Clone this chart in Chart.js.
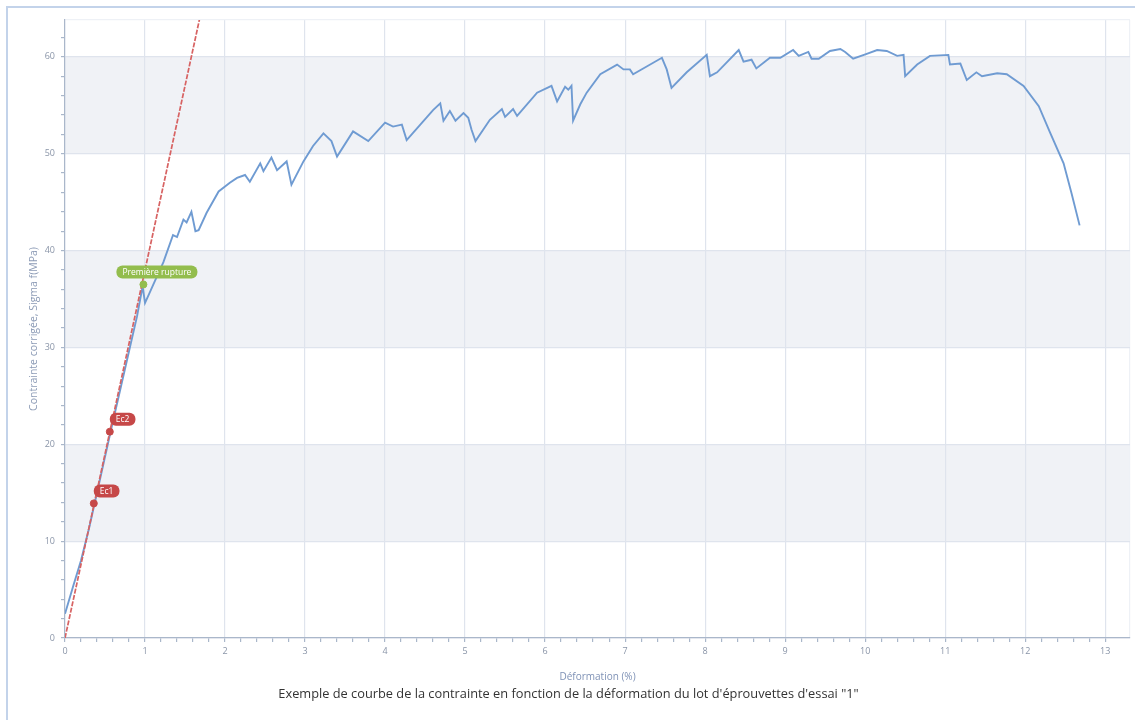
<!DOCTYPE html>
<html>
<head>
<meta charset="utf-8">
<script src="https://cdn.jsdelivr.net/npm/chart.js@4.4.1/dist/chart.umd.min.js"></script>
<style>
    body { margin: 0; background: #fff; }
    .cadre { position: relative; width: 1135px; height: 720px; }
    .bord { position: absolute; left: 6px; top: 6px; right: 0; bottom: 0; border-left: 2px solid #c3d3ea; border-top: 2px solid #c3d3ea; pointer-events: none; }
</style>
</head>
<body>
<div class="cadre">
    <canvas id="myChart"></canvas>
    <div class="bord"></div>
</div>
<script>
// courbe contrainte / deformation
const deformation = [0, 0.1, 0.2, 0.3, 0.4, 0.5, 0.6, 0.7, 0.8, 0.9, 0.97, 1.0, 1.05, 1.12, 1.23, 1.35, 1.40, 1.48, 1.52, 1.58, 1.63, 1.67, 1.77, 1.92, 2.06, 2.15, 2.25, 2.31, 2.44, 2.48, 2.58, 2.65, 2.77, 2.83, 2.98, 3.10, 3.23, 3.33, 3.40, 3.60, 3.79, 4.00, 4.10, 4.21, 4.27, 4.60, 4.69, 4.73, 4.81, 4.88, 4.98, 5.04, 5.08, 5.13, 5.31, 5.46, 5.50, 5.60, 5.65, 5.90, 6.08, 6.15, 6.25, 6.29, 6.33, 6.35, 6.44, 6.52, 6.69, 6.90, 6.98, 7.06, 7.10, 7.27, 7.46, 7.52, 7.58, 7.77, 8.02, 8.06, 8.15, 8.42, 8.48, 8.58, 8.64, 8.81, 8.94, 9.10, 9.17, 9.29, 9.33, 9.42, 9.56, 9.69, 9.75, 9.85, 10.02, 10.15, 10.27, 10.40, 10.48, 10.50, 10.65, 10.81, 11.04, 11.06, 11.19, 11.27, 11.39, 11.46, 11.65, 11.77, 11.98, 12.17, 12.31, 12.48, 12.58, 12.68];
const contrainte = [2.5, 5.3, 8.0, 11.3, 15.0, 18.7, 22.4, 26.0, 29.6, 33.2, 36.3, 34.6, 35.5, 36.8, 38.8, 41.6, 41.4, 43.2, 42.9, 44.0, 42.0, 42.1, 43.9, 46.1, 47.0, 47.5, 47.8, 47.1, 49.0, 48.2, 49.6, 48.3, 49.2, 46.8, 49.2, 50.8, 52.1, 51.3, 49.7, 52.3, 51.3, 53.2, 52.8, 53.0, 51.4, 54.5, 55.2, 53.4, 54.4, 53.4, 54.2, 53.7, 52.5, 51.3, 53.5, 54.6, 53.8, 54.6, 53.9, 56.3, 57.0, 55.4, 56.9, 56.6, 57.0, 53.4, 55.1, 56.3, 58.2, 59.2, 58.7, 58.7, 58.2, 59.0, 59.9, 58.7, 56.8, 58.4, 60.2, 58.0, 58.4, 60.7, 59.5, 59.7, 58.8, 59.9, 59.9, 60.7, 60.1, 60.5, 59.8, 59.8, 60.6, 60.8, 60.5, 59.8, 60.3, 60.7, 60.6, 60.1, 60.2, 58.0, 59.2, 60.1, 60.2, 59.2, 59.3, 57.6, 58.4, 58.0, 58.3, 58.2, 57.0, 54.9, 52.2, 49.0, 45.9, 42.6];

// droite du module (pente)
const droiteX = [0, 1.75];
const droiteY = [0, 66.5];

// points remarquables
const pointsNoms = ['Ec1', 'Ec2', 'Première rupture'];
const pointsX = [0.36, 0.56, 0.98];
const pointsY = [13.9, 21.3, 36.5];
const pointsCouleurs = ['#c64848', '#c64848', '#93bd4d'];

// bandes grisees
const bandes = [[10, 20], [30, 40], [50, 60]];

const legende = "Exemple de courbe de la contrainte en fonction de la déformation du lot d'éprouvettes d'essai \"1\"";
const titreX = 'Déformation (%)';
const titreY = 'Contrainte corrigée, Sigma f(MPa)';

function serie(xs, ys) {
    return xs.map(function(x, i) { return { x: x, y: ys[i] }; });
}

function estMultiple(v, pas) {
    const r = v / pas;
    return Math.abs(r - Math.round(r)) < 1e-6;
}

const pluginBandes = {
    id: 'bandes',
    beforeDraw: function(chart) {
        const ctx = chart.ctx;
        const a = chart.chartArea;
        const y = chart.scales.y;
        ctx.save();
        ctx.fillStyle = '#f0f2f6';
        bandes.forEach(function(b) {
            const y1 = y.getPixelForValue(b[1]);
            const y0 = y.getPixelForValue(b[0]);
            ctx.fillRect(a.left, y1, a.right - a.left, y0 - y1);
        });
        ctx.restore();
    }
};

const pluginEtiquettes = {
    id: 'etiquettes',
    afterDatasetsDraw: function(chart) {
        const ctx = chart.ctx;
        ctx.save();
        ctx.font = '8.5px "Open Sans", sans-serif';
        ctx.textBaseline = 'middle';
        pointsNoms.forEach(function(nom, i) {
            const px = chart.scales.x.getPixelForValue(pointsX[i]);
            const py = chart.scales.y.getPixelForValue(pointsY[i]);
            const w = ctx.measureText(nom).width + 12;
            const h = 13;
            const gauche = i === 2 ? px - 27 : px;
            const haut = py - 19;
            ctx.fillStyle = pointsCouleurs[i];
            ctx.beginPath();
            ctx.roundRect(gauche, haut, w, h, 6);
            ctx.fill();
            ctx.fillStyle = '#ffffff';
            ctx.fillText(nom, gauche + 6, haut + h / 2 + 0.5);
        });
        ctx.restore();
    }
};

function couleurGrille(c, pas) {
    if (c.index === c.scale.ticks.length - 1) {
        return '#eef1f6';
    }
    return estMultiple(c.tick.value, pas) ? '#dfe4ed' : 'rgba(0,0,0,0)';
}

function graficar() {
    const data = {
        datasets: [{
            label: 'Courbe',
            data: serie(deformation, contrainte),
            borderColor: '#6f9bd2',
            borderWidth: 1.9,
            pointRadius: 0,
            tension: 0,
            order: 2
        }, {
            label: 'Module',
            data: serie(droiteX, droiteY),
            borderColor: '#d76262',
            borderWidth: 1.7,
            borderDash: [5, 1.5],
            pointRadius: 0,
            order: 1
        }, {
            label: 'Points',
            data: serie(pointsX, pointsY),
            showLine: false,
            pointRadius: 3.5,
            pointBackgroundColor: pointsCouleurs,
            pointBorderColor: pointsCouleurs,
            order: 0
        }]
    };

    const config = {
        type: 'line',
        data: data,
        plugins: [pluginBandes, pluginEtiquettes],
        options: {
            responsive: true,
            maintainAspectRatio: false,
            animation: false,
            layout: { padding: { left: 7, top: 20, right: 5, bottom: 0 } },
            plugins: {
                legend: { display: false },
                tooltip: { enabled: false },
                title: {
                    display: true,
                    position: 'bottom',
                    text: legende,
                    color: '#333333',
                    font: { family: '"Open Sans", sans-serif', size: 12.8, weight: 'normal' },
                    padding: { top: 3, bottom: 18 }
                }
            },
            scales: {
                x: {
                    type: 'linear',
                    min: 0,
                    max: 13.31,
                    afterFit: function(s) { s.height = 45.6; },
                    border: { color: '#aab7ca', width: 1.2 },
                    grid: {
                        color: function(c) { return couleurGrille(c, 1); },
                        tickColor: function(c) { return estMultiple(c.tick.value, 0.2) ? '#aab7ca' : 'rgba(0,0,0,0)'; },
                        tickLength: 4,
                        lineWidth: 1.2
                    },
                    ticks: {
                        stepSize: 0.2,
                        autoSkip: false,
                        maxRotation: 0,
                        padding: 4,
                        color: '#8a95a8',
                        font: { family: '"Open Sans", sans-serif', size: 9 },
                        callback: function(v) { return estMultiple(v, 1) ? String(Math.round(v)) : ''; }
                    },
                    title: {
                        display: true,
                        text: titreX,
                        color: '#7f92b6',
                        font: { family: '"Open Sans", sans-serif', size: 10 },
                        padding: { top: 4.6, bottom: 0 }
                    }
                },
                y: {
                    type: 'linear',
                    min: 0,
                    max: 63.8,
                    afterFit: function(s) { s.width = 58; },
                    border: { color: '#aab7ca', width: 1.2 },
                    grid: {
                        color: function(c) { return couleurGrille(c, 10); },
                        tickColor: function(c) { return estMultiple(c.tick.value, 2) ? '#aab7ca' : 'rgba(0,0,0,0)'; },
                        tickLength: 4,
                        lineWidth: 1.2
                    },
                    ticks: {
                        stepSize: 2,
                        autoSkip: false,
                        padding: 6,
                        color: '#8a95a8',
                        font: { family: '"Open Sans", sans-serif', size: 9 },
                        callback: function(v) { return estMultiple(v, 10) ? String(Math.round(v)) : ''; }
                    },
                    title: {
                        display: true,
                        text: titreY,
                        color: '#8c9bb6',
                        font: { family: '"Open Sans", sans-serif', size: 10.5 },
                        padding: { top: 21, bottom: 0 }
                    }
                }
            }
        }
    };

    const myChart = new Chart(document.getElementById('myChart'), config);
}

graficar();
</script>
</body>
</html>
